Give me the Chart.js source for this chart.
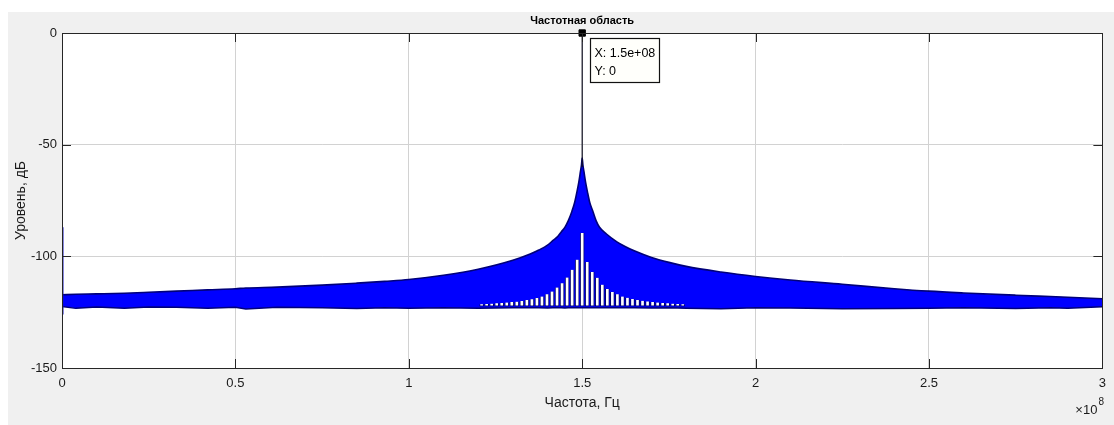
<!DOCTYPE html>
<html>
<head>
<meta charset="utf-8">
<title>Частотная область</title>
<script src="https://cdn.jsdelivr.net/npm/chart.js@4.4.0/dist/chart.umd.min.js"></script>
<style>
  html, body { margin: 0; padding: 0; background: #fff; }
  #wrap { position: relative; width: 1114px; height: 425px; overflow: hidden; }
  #figure { position: absolute; left: 8px; top: 12px; right: 0; bottom: 0; background: #f0f0f0; }
  #spectrumChart { position: absolute; left: 0; top: 0; }
</style>
</head>
<body>
<div id="wrap">
  <div id="figure"></div>
  <canvas id="spectrumChart" width="1114" height="425"></canvas>
</div>
<script>
// frequency, in units of 1e8 Hz (axis shows x10^8)
const freq = [0, 0.04, 0.1, 0.18, 0.25, 0.33, 0.42, 0.5, 0.53, 0.62, 0.75, 0.85, 0.93, 1.0, 1.1, 1.2, 1.3, 1.35,
  1.375, 1.4, 1.415, 1.43, 1.44, 1.45, 1.46, 1.47, 1.478, 1.485, 1.49, 1.495, 1.498,
  1.5,
  1.502, 1.505, 1.51, 1.515, 1.522, 1.53, 1.54, 1.55, 1.57, 1.6, 1.625, 1.65, 1.7, 1.75, 1.8, 1.9,
  2.0, 2.1, 2.25, 2.4, 2.5, 2.6, 2.75, 2.85, 2.9, 3.0];

// upper edge of the spectrum band, dB
const levelTop = [-117.2, -117, -116.8, -116.5, -116.1, -115.6, -115, -114.5, -114.2, -113.8, -112.9, -112, -111.2, -110.4, -108.5, -105.8, -101.8, -99,
  -97.2, -95, -93, -91, -89, -87, -84, -80, -76, -71, -67, -62, -59,
  -56,
  -59, -62, -67, -71, -76, -79.5, -84, -87, -90, -93.5, -95.7, -97.5, -100.5, -102.7, -104.5, -107,
  -109, -110.6, -112.5, -114.5, -115.6, -116.4, -117.4, -118, -118.3, -119];

// lower edge of the band (noise floor), dB
const levelBottom = [-122.5, -123.3, -122.7, -123.2, -122.7, -122.8, -123.3, -122.8, -123.6, -122.8, -123, -123.4, -123, -123.2, -123, -123.2, -123, -123,
  -123, -123.1, -123, -123, -123, -123.1, -123, -123, -123, -123, -123, -123, -123,
  -123,
  -123, -123, -123, -123, -123, -123, -123, -123, -123, -123, -123, -123, -123.1, -123, -123.2, -123.5,
  -123, -123.1, -123.5, -123.4, -123.3, -123, -123.4, -123, -123.3, -122.6];

// white comb teeth inside the band around the carrier
const toothFreq = [1.21, 1.2245, 1.239, 1.2535, 1.268, 1.2825, 1.297, 1.3115, 1.326, 1.3405, 1.355, 1.3695, 1.384, 1.3985, 1.413, 1.4275, 1.442, 1.4565, 1.471, 1.4855,
  1.5,
  1.5145, 1.529, 1.5435, 1.558, 1.5725, 1.587, 1.6015, 1.616, 1.6305, 1.645, 1.6595, 1.674, 1.6885, 1.703, 1.7175, 1.732, 1.7465, 1.761, 1.7755, 1.79];
const toothTip = [-121.4, -121.3, -121.2, -121, -120.9, -120.7, -120.5, -120.3, -120, -119.6, -119.2, -118.7, -118, -117, -115.8, -114, -112, -109.5, -106, -101.5,
  -89.5,
  -102.5, -107, -109.6, -112.7, -114.6, -116, -117, -118, -118.6, -119.1, -119.5, -119.9, -120.2, -120.5, -120.7, -120.9, -121, -121.2, -121.3, -121.4];
const toothBase = -122.3;

// carrier spike and left-edge DC spike
const carrierFreq = 1.5;
const carrierLevel = [-60, 0];
const dcFreq = 0;
const dcLevel = [-87, -126];

// data tip
const tipX = 1.5;
const tipY = 0;

const xTicks = [0, 0.5, 1, 1.5, 2, 2.5, 3];
const xTickLabels = ['0', '0.5', '1', '1.5', '2', '2.5', '3'];
const yTicks = [0, -50, -100, -150];
const yTickLabels = ['0', '-50', '-100', '-150'];

const FONT = '"Liberation Sans", Arial, Helvetica, sans-serif';
const INK = '#1a1a1a';

function formatExp(v) {
  const s = v.toExponential(1);
  return s.replace(/e([+-])(\d)$/, 'e$10$2');
}

const matlabFrame = {
  id: 'matlabFrame',
  beforeDraw(chart) {
    const { ctx, chartArea: a } = chart;
    ctx.save();
    ctx.fillStyle = '#ffffff';
    ctx.fillRect(a.left, a.top, a.right - a.left, a.bottom - a.top);
    ctx.restore();
  },
  afterDraw(chart) {
    const { ctx, chartArea: a, scales } = chart;
    const xs = scales.x, ys = scales.y;
    ctx.save();

    // inward ticks on all four sides
    ctx.strokeStyle = '#262626';
    ctx.lineWidth = 1;
    const tl = 9;
    ctx.beginPath();
    xTicks.forEach(v => {
      const px = Math.round(xs.getPixelForValue(v)) + 0.5;
      ctx.moveTo(px, a.bottom); ctx.lineTo(px, a.bottom - tl);
      ctx.moveTo(px, a.top); ctx.lineTo(px, a.top + tl);
    });
    yTicks.forEach(v => {
      const py = Math.round(ys.getPixelForValue(v)) + 0.5;
      ctx.moveTo(a.left, py); ctx.lineTo(a.left + tl, py);
      ctx.moveTo(a.right, py); ctx.lineTo(a.right - tl, py);
    });
    ctx.stroke();

    // axes box
    ctx.strokeStyle = '#262626';
    ctx.strokeRect(Math.round(a.left) + 0.5, Math.round(a.top) + 0.5,
      Math.round(a.right - a.left), Math.round(a.bottom - a.top));

    // title
    ctx.fillStyle = '#000';
    ctx.font = 'bold 11px ' + FONT;
    ctx.textAlign = 'center';
    ctx.textBaseline = 'middle';
    ctx.fillText('Частотная область', (a.left + a.right) / 2, 21);

    // x10^8 exponent
    ctx.fillStyle = INK;
    ctx.textAlign = 'right';
    ctx.textBaseline = 'alphabetic';
    ctx.font = '13px ' + FONT;
    ctx.fillText('\u00d710', a.right - 5, 414);
    ctx.textAlign = 'left';
    ctx.font = '10px ' + FONT;
    ctx.fillText('8', a.right - 4, 405);

    // data tip box
    const px = xs.getPixelForValue(tipX);
    const py = ys.getPixelForValue(tipY);
    const bx = Math.round(px) + 8.5, by = Math.round(py) + 5.5;
    ctx.fillStyle = '#fffffb';
    ctx.fillRect(bx, by, 69, 44);
    ctx.strokeStyle = '#111';
    ctx.lineWidth = 1.2;
    ctx.strokeRect(bx, by, 69, 44);
    ctx.fillStyle = '#000';
    ctx.font = '12.5px ' + FONT;
    ctx.textBaseline = 'middle';
    ctx.fillText('X: ' + formatExp(tipX * 1e8), bx + 4, by + 15);
    ctx.fillText('Y: ' + tipY, bx + 4, by + 33);

    ctx.restore();
  }
};

const ctx = document.getElementById('spectrumChart').getContext('2d');

new Chart(ctx, {
  type: 'line',
  data: {
    datasets: [
      {
        label: 'marker',
        data: [{ x: tipX, y: tipY }],
        showLine: false,
        pointStyle: 'rect',
        pointRadius: 4.5,
        pointBackgroundColor: '#000',
        pointBorderColor: '#000',
        clip: false,
        order: 0
      },
      {
        label: 'carrier',
        data: carrierLevel.map(y => ({ x: carrierFreq, y })),
        borderColor: '#101020',
        borderWidth: 1.2,
        pointRadius: 0,
        order: 1
      },
      {
        label: 'dc',
        data: dcLevel.map(y => ({ x: dcFreq, y })),
        borderColor: '#1010c0',
        borderWidth: 3,
        pointRadius: 0,
        order: 1
      },
      {
        type: 'bar',
        label: 'comb',
        data: toothFreq.map((x, i) => ({ x, y: [toothBase, toothTip[i]] })),
        backgroundColor: '#ffffff',
        borderColor: '#00006a',
        borderWidth: 1,
        barThickness: 4,
        order: 2
      },
      {
        label: 'bottom',
        data: freq.map((x, i) => ({ x, y: levelBottom[i] })),
        borderColor: '#00007a',
        borderWidth: 1.5,
        pointRadius: 0,
        fill: false,
        order: 3
      },
      {
        label: 'top',
        data: freq.map((x, i) => ({ x, y: levelTop[i] })),
        borderColor: '#00007a',
        borderWidth: 1.6,
        backgroundColor: '#0000ff',
        pointRadius: 0,
        cubicInterpolationMode: 'monotone',
        fill: '-1',
        order: 4
      }
    ]
  },
  options: {
    responsive: false,
    animation: false,
    devicePixelRatio: 1,
    layout: { padding: { top: 33, right: 8, left: 0, bottom: 0 } },
    plugins: {
      legend: { display: false },
      tooltip: { enabled: false },
      title: { display: false }
    },
    scales: {
      x: {
        type: 'linear',
        min: 0,
        max: 3,
        offset: false,
        afterBuildTicks: s => { s.ticks = xTicks.map(v => ({ value: v })); },
        afterFit: s => { s.height = 57; },
        ticks: {
          autoSkip: false,
          maxRotation: 0,
          padding: 8,
          color: INK,
          font: { family: FONT, size: 13 },
          callback: v => xTickLabels[xTicks.indexOf(v)]
        },
        grid: { color: '#d2d2d2', drawTicks: false, offset: false },
        border: { color: '#262626' },
        title: {
          display: true,
          text: 'Частота, Гц',
          color: INK,
          font: { family: FONT, size: 14 },
          padding: { top: 0, bottom: 13 }
        }
      },
      y: {
        min: -150,
        max: 0,
        afterBuildTicks: s => { s.ticks = yTicks.map(v => ({ value: v })); },
        afterFit: s => { s.width = 62; },
        ticks: {
          autoSkip: false,
          padding: 5,
          color: INK,
          font: { family: FONT, size: 13 },
          callback: v => yTickLabels[yTicks.indexOf(v)]
        },
        grid: { color: '#d2d2d2', drawTicks: false },
        border: { color: '#262626' },
        title: {
          display: true,
          text: 'Уровень, дБ',
          color: INK,
          font: { family: FONT, size: 14 },
          padding: { top: 13, bottom: 0 }
        }
      }
    }
  },
  plugins: [matlabFrame]
});
</script>
</body>
</html>
